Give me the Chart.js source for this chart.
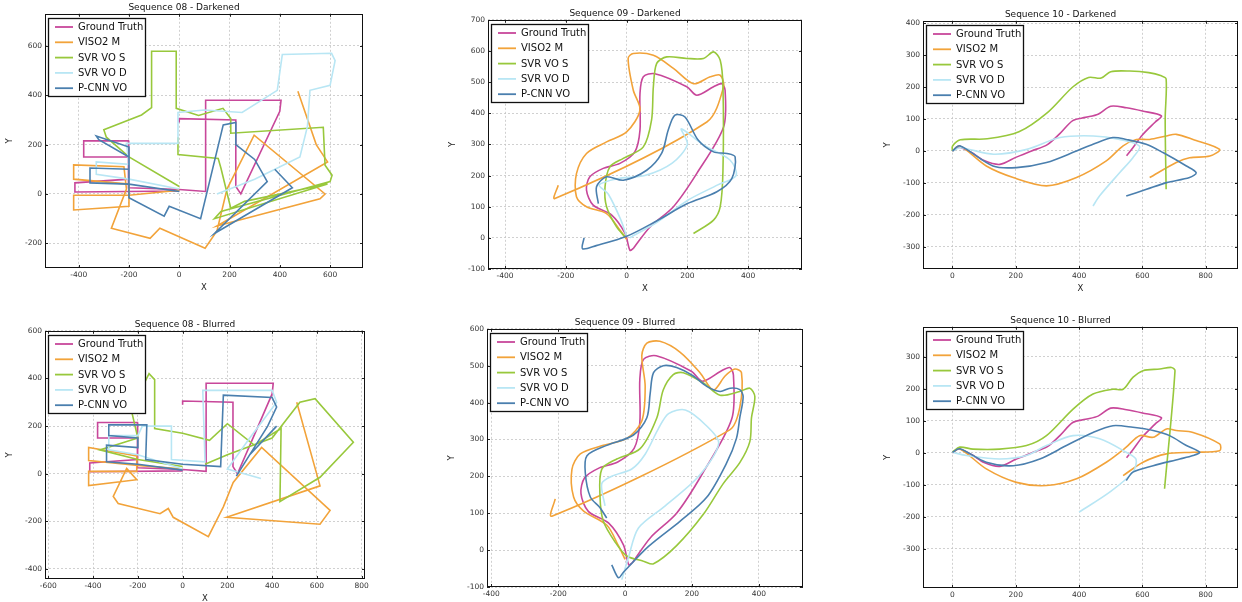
<!DOCTYPE html>
<html><head><meta charset="utf-8">
<script src="https://cdn.jsdelivr.net/npm/chart.js@4"></script>
<style>
html,body{margin:0;padding:0;background:#fff;overflow:hidden;width:1242px;height:602px;position:relative}
canvas{position:absolute}
</style></head><body>
<script>
// ---- labels / colours ----
const seriesLabels = ['Ground Truth','VISO2 M','SVR VO S','SVR VO D','P-CNN VO'];
const seriesColors = ['#c8479a','#f2a33a','#98c83c','#b8e6f4','#4a7fae'];
const panelTitles = ['Sequence 08 - Darkened','Sequence 09 - Darkened','Sequence 10 - Darkened',
                     'Sequence 08 - Blurred','Sequence 09 - Blurred','Sequence 10 - Blurred'];

// ---- tick labels ----
const xTicks08d = [-400,-200,0,200,400,600];
const yTicks08d = [-200,0,200,400,600];
const xTicks09 = [-400,-200,0,200,400];
const yTicks09 = [-100,0,100,200,300,400,500,600,700];
const xTicks10 = [0,200,400,600,800];
const yTicks10 = [-300,-200,-100,0,100,200,300,400];
const xTicks08b = [-600,-400,-200,0,200,400,600,800];
const yTicks08b = [-400,-200,0,200,400,600];

// ---- ground truth (shared per sequence) ----
const gt08 = [[0,290],[0,305],[225,300],[225,30],[245,0],[400,335],[405,380],[105,380],[105,10],[0,18],[-200,25],[-202,150],[-380,150],[-380,215],[-202,215],[-202,150],[-200,60],[-415,45],[-415,8],[0,12]];
const gt09 = [[22,-34],[77,35],[154,100],[231,207],[319,356],[324,474],[313,495],[286,485],[231,458],[198,485],[93,527],[55,517],[44,463],[44,346],[27,276],[-22,239],[-77,223],[-121,196],[-132,153],[-110,105],[-49,73],[-5,14],[11,-40],[22,-34]];
const gt10 = [[0,0],[20,12],[60,-5],[100,-30],[150,-42],[200,-20],[250,0],[300,20],[340,55],[380,95],[420,105],[460,115],[500,140],[550,135],[600,125],[660,110],[640,90],[600,50],[570,10],[550,-15]];

// ---- Sequence 08 darkened ----
const viso08d = [[0,15],[-200,-5],[-420,-5],[-420,-65],[-200,-50],[-200,40],[-420,60],[-420,118],[-220,110],[-210,20],[-270,-139],[-116,-180],[-77,-139],[103,-220],[150,-150],[190,20],[298,238],[580,0],[560,-20],[150,-130],[590,130],[545,200],[472,416]];
const svs08d = [[0,30],[-200,150],[-290,230],[-300,260],[-150,320],[-110,350],[-110,578],[-12,578],[-12,347],[77,318],[174,347],[205,306],[205,246],[573,270],[580,116],[608,76],[600,50],[166,-71],[140,-100],[590,40],[260,-30],[205,-58],[166,104],[155,144],[-5,160],[-5,230]];
const svd08d = [[0,20],[-200,60],[-330,80],[-330,130],[-200,120],[-210,205],[-8,205],[-5,330],[100,340],[250,330],[390,420],[410,565],[606,570],[620,540],[600,440],[520,420],[510,274],[480,150],[300,60],[150,0]];
const pcnn08d = [[0,10],[-200,40],[-355,45],[-355,105],[-200,100],[-200,150],[-320,220],[-330,235],[-200,190],[-200,-15],[-60,-90],[-40,-50],[85,-100],[175,280],[225,290],[225,200],[300,140],[350,50],[140,-160],[450,25],[380,100]];

// ---- Sequence 09 darkened ----
const viso09d = [[-225,169],[-236,126],[264,372],[319,485],[308,522],[275,517],[220,495],[154,544],[88,586],[22,592],[5,576],[22,474],[44,410],[0,340],[-66,308],[-132,271],[-165,206],[-165,132],[-132,100],[-66,78],[-22,25],[0,-5]];
const svs09d = [[220,14],[286,57],[308,100],[317,217],[317,485],[308,570],[286,597],[253,576],[198,576],[132,581],[99,560],[88,485],[82,378],[55,292],[-11,255],[-55,228],[-71,164],[-66,100],[-33,35],[-5,3]];
const svd09d = [[0,5],[-20,60],[-60,140],[-90,170],[-30,190],[60,200],[150,240],[200,300],[180,350],[250,300],[340,250],[360,200],[300,170],[200,120],[100,50],[10,0]];
const pcnn09d = [[-140,0],[-145,-35],[-100,-25],[0,5],[100,55],[200,110],[297,148],[346,190],[357,260],[330,271],[286,276],[236,313],[192,388],[159,394],[137,346],[115,271],[66,217],[-11,185],[-66,196],[-99,164],[-93,110]];

// ---- Sequence 10 darkened ----
const viso10d = [[0,0],[23,16],[107,-47],[192,-83],[297,-109],[392,-83],[486,-31],[539,16],[581,36],[623,36],[676,47],[707,52],[760,36],[844,5],[813,-16],[749,-21],[707,-36],[623,-83]];
const svs10d = [[0,0],[0,15],[25,35],[110,38],[210,60],[300,120],[380,200],[430,230],[470,228],[500,248],[560,250],[620,245],[660,235],[675,225],[672,100],[675,-120]];
const svd10d = [[0,0],[25,10],[130,-10],[235,5],[340,42],[445,47],[528,36],[591,15],[570,-21],[528,-68],[465,-140],[444,-172]];
const pcnn10d = [[0,0],[23,16],[128,-47],[202,-52],[297,-36],[392,0],[444,21],[507,42],[549,36],[612,21],[665,-5],[739,-47],[770,-68],[749,-83],[676,-99],[613,-120],[549,-141]];

// ---- Sequence 08 blurred ----
const viso08b = [[0,20],[-200,35],[-420,55],[-420,110],[-205,75],[-205,10],[-420,10],[-420,-50],[-205,-25],[-250,22],[-310,-95],[-288,-125],[-101,-168],[-64,-146],[-42,-183],[115,-264],[182,-139],[226,-37],[353,110],[659,-154],[614,-212],[197,-183],[614,-51],[510,300]];
const svs08b = [[0,30],[-200,60],[-370,100],[-200,150],[-230,270],[-150,420],[-125,395],[-125,190],[0,170],[120,140],[200,210],[320,120],[440,190],[435,-117],[614,-15],[763,132],[592,315],[524,300],[400,150],[200,80],[100,40]];
const svd08b = [[0,20],[-200,80],[-330,100],[-330,160],[-200,160],[-180,200],[-50,200],[-50,60],[100,50],[90,350],[400,350],[420,300],[300,150],[200,20],[350,-20]];
const pcnn08b = [[0,15],[-200,40],[-340,50],[-340,120],[-200,110],[-200,150],[-330,160],[-330,205],[-160,205],[-165,60],[0,40],[170,30],[182,330],[400,320],[420,280],[380,200],[240,-10],[300,80],[420,200]];

// ---- Sequence 09 blurred ----
const viso09b = [[-209,139],[-219,92],[313,326],[343,387],[348,481],[328,491],[299,472],[264,434],[224,481],[164,537],[104,566],[65,561],[50,528],[60,444],[50,350],[5,303],[-65,284],[-134,261],[-159,219],[-154,144],[-124,106],[-55,68],[-20,12],[0,-25]];
const svs09b = [[55,-30],[85,-37],[154,12],[234,97],[294,181],[343,237],[373,294],[378,359],[388,416],[373,439],[343,430],[284,420],[234,453],[174,481],[144,476],[114,434],[95,359],[45,275],[-25,247],[-70,219],[-75,144],[-65,78],[-30,22],[5,-16],[55,-30]];
const svd09b = [[-10,-80],[10,-20],[40,60],[120,120],[220,200],[280,290],[240,340],[180,380],[130,370],[100,330],[60,260],[20,220],[-40,200],[-70,180],[-60,120]];
const pcnn09b = [[-40,-40],[-20,-75],[-5,-60],[70,10],[164,78],[244,143],[304,237],[333,303],[343,359],[353,416],[343,435],[314,439],[284,430],[244,444],[204,472],[154,495],[114,500],[85,481],[75,425],[65,359],[25,312],[-55,284],[-114,256],[-119,209],[-104,144],[-75,115],[-55,87]];

// ---- Sequence 10 blurred ----
const viso10b = [[0,2],[23,13],[107,-50],[202,-92],[297,-102],[392,-81],[486,-29],[549,18],[591,54],[634,49],[676,75],[707,70],[760,64],[844,28],[844,7],[760,2],[676,-3],[602,-29],[539,-71]];
const svs10b = [[0,2],[23,18],[65,12],[149,12],[234,23],[297,54],[381,137],[444,184],[507,199],[539,199],[570,236],[602,257],[655,262],[692,267],[703,257],[670,-112]];
const svd10b = [[0,2],[44,-8],[149,-19],[234,-8],[297,23],[381,54],[465,44],[549,2],[580,-20],[570,-60],[500,-120],[400,-185]];
const pcnn10b = [[0,2],[23,13],[107,-29],[192,-40],[276,-19],[360,23],[444,64],[507,85],[570,80],[634,70],[686,54],[739,23],[781,2],[760,-8],[718,-19],[634,-40],[570,-60],[549,-86]];

// ---- panel layout (frame = chart area in page pixels) ----
const panels = [
  {title:panelTitles[0], frame:[45,15,363,268],  xr:[-534,731], yr:[-300,730], xt:xTicks08d, yt:yTicks08d, series:[gt08,viso08d,svs08d,svd08d,pcnn08d], tension:0},
  {title:panelTitles[1], frame:[488,21,802,269], xr:[-456,577], yr:[-100,700], xt:xTicks09,  yt:yTicks09,  series:[gt09,viso09d,svs09d,svd09d,pcnn09d], tension:0.3},
  {title:panelTitles[2], frame:[923,22,1238,269],xr:[-93,902],  yr:[-369,407], xt:xTicks10,  yt:yTicks10,  series:[gt10,viso10d,svs10d,svd10d,pcnn10d], tension:0.3},
  {title:panelTitles[3], frame:[45,332,365,579], xr:[-615,815], yr:[-442,600], xt:xTicks08b, yt:yTicks08b, series:[gt08,viso08b,svs08b,svd08b,pcnn08b], tension:0},
  {title:panelTitles[4], frame:[487,330,803,587],xr:[-413,532], yr:[-100,600], xt:xTicks09,  yt:yTicks09.slice(0,8), series:[gt09,viso09b,svs09b,svd09b,pcnn09b], tension:0.3},
  {title:panelTitles[5], frame:[923,328,1238,588],xr:[-93,902], yr:[-422,394], xt:xTicks10,  yt:yTicks10.slice(0,7), series:[gt10,viso10b,svs10b,svd10b,pcnn10b], tension:0.3}
];

const FONT = 'DejaVu Sans, Arial, sans-serif';

const framePlugin = {
  id:'frame',
  afterDatasetsDraw(chart){
    const {ctx, chartArea:a, scales} = chart;
    ctx.save();
    // inward tick marks on all four sides
    ctx.strokeStyle = '#222'; ctx.lineWidth = 1;
    ctx.beginPath();
    scales.x.ticks.forEach(t => {
      const px = Math.round(scales.x.getPixelForValue(t.value)) + 0.5;
      ctx.moveTo(px, a.bottom); ctx.lineTo(px, a.bottom - 3);
      ctx.moveTo(px, a.top); ctx.lineTo(px, a.top + 3);
    });
    scales.y.ticks.forEach(t => {
      const py = Math.round(scales.y.getPixelForValue(t.value)) + 0.5;
      ctx.moveTo(a.left, py); ctx.lineTo(a.left + 3, py);
      ctx.moveTo(a.right, py); ctx.lineTo(a.right - 3, py);
    });
    ctx.stroke();
    ctx.strokeStyle = '#111'; ctx.lineWidth = 1;
    ctx.strokeRect(Math.round(a.left)+0.5, Math.round(a.top)+0.5, Math.round(a.right-a.left)-1, Math.round(a.bottom-a.top)-1);
    // legend box
    const x0 = Math.round(a.left)+3, y0 = Math.round(a.top)+4, w = 97, h = 78;
    ctx.fillStyle = '#fff'; ctx.fillRect(x0, y0, w, h);
    ctx.strokeStyle = '#111'; ctx.lineWidth = 1.3;
    ctx.strokeRect(x0+0.5, y0+0.5, w, h);
    ctx.font = '10px ' + FONT; ctx.textBaseline = 'middle'; ctx.textAlign = 'left';
    chart.data.datasets.forEach((ds, i) => {
      const yy = y0 + 9 + i*15.3;
      ctx.strokeStyle = ds.borderColor; ctx.lineWidth = 1.8;
      ctx.beginPath(); ctx.moveTo(x0+7, yy); ctx.lineTo(x0+25, yy); ctx.stroke();
      ctx.fillStyle = '#111'; ctx.fillText(ds.label, x0+30, yy+0.5);
    });
    ctx.restore();
  }
};

panels.forEach(p => {
  const [L,T,R,B] = p.frame;
  const W = R - L + 48, H = B - T + 13 + 25;
  const c = document.createElement('canvas');
  c.width = W; c.height = H;
  c.style.left = (L - 40) + 'px'; c.style.top = (T - 13) + 'px';
  c.style.width = W + 'px'; c.style.height = H + 'px';
  document.body.appendChild(c);
  const tickFont = {family: FONT, size: 7.5};
  new Chart(c, {
    type: 'line',
    data: {
      datasets: p.series.map((s, k) => ({
        label: seriesLabels[k],
        data: s.map(([x, y]) => ({x, y})),
        borderColor: seriesColors[k],
        backgroundColor: seriesColors[k],
        borderWidth: 1.6,
        pointRadius: 0,
        fill: false,
        tension: p.tension,
        order: 5 - k
      }))
    },
    options: {
      responsive: false, animation: false, events: [],
      layout: {padding: {left: 0, right: 8, top: 0, bottom: 0}},
      plugins: {
        legend: {display: false}, tooltip: {enabled: false},
        title: {display: true, text: p.title, color: '#111',
                font: {family: FONT, size: 9, weight: 'normal'}, padding: {top: 0, bottom: 1}}
      },
      scales: {
        x: {
          type: 'linear', min: p.xr[0], max: p.xr[1],
          afterBuildTicks: s => { s.ticks = p.xt.map(v => ({value: v})); },
          afterFit: s => { s.height = 25; },
          ticks: {font: tickFont, color: '#333', padding: 3, maxRotation: 0, autoSkip: false},
          grid: {color: '#c4c4c4', lineWidth: 0.8, drawTicks: false},
          border: {display: false, dash: [2, 2]},
          title: {display: true, text: 'X', color: '#222', font: {family: FONT, size: 8.5}, padding: 0}
        },
        y: {
          type: 'linear', min: p.yr[0], max: p.yr[1],
          afterBuildTicks: s => { s.ticks = p.yt.map(v => ({value: v})); },
          afterFit: s => { s.width = 40; },
          ticks: {font: tickFont, color: '#333', padding: 3, autoSkip: false},
          grid: {color: '#c4c4c4', lineWidth: 0.8, drawTicks: false},
          border: {display: false, dash: [2, 2]},
          title: {display: true, text: 'Y', color: '#222', font: {family: FONT, size: 8.5}, padding: 0}
        }
      }
    },
    plugins: [framePlugin]
  });
});
</script>
</body></html>
